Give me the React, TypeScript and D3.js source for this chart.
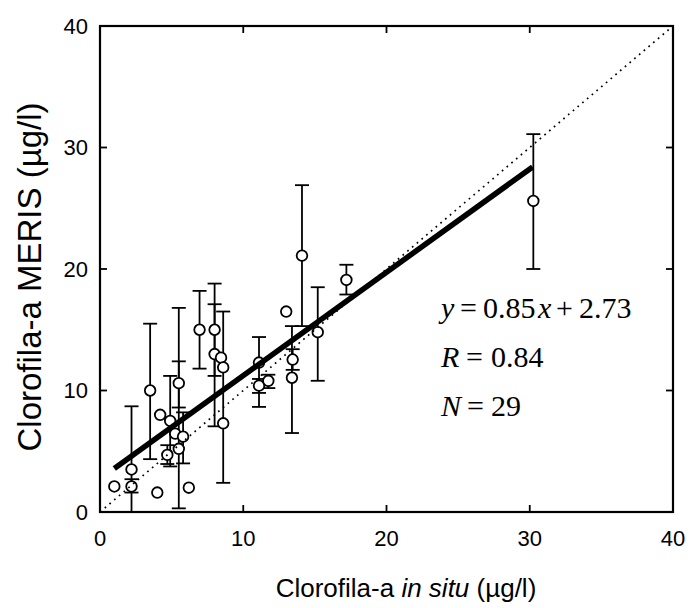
import React from "react";
import * as d3 from "d3";

const xsInSitu = [1.0, 2.2, 2.2, 4.0, 3.5, 4.2, 4.7, 4.9, 5.25, 5.5, 5.5, 5.8, 6.2, 6.95, 8.0, 8.0, 8.45, 8.6, 8.6, 11.1, 11.1, 11.75, 14.1, 13.0, 13.45, 13.4, 15.2, 17.2, 30.25];
const ysMeris = [2.1, 3.5, 2.1, 1.6, 10.0, 8.0, 4.7, 7.5, 6.45, 10.6, 5.2, 6.2, 2.0, 15.0, 15.0, 13.0, 12.7, 11.9, 7.3, 12.3, 10.4, 10.8, 21.1, 16.5, 12.55, 11.05, 14.8, 19.1, 25.6];
const errLow: (number | null)[] = [null, 0.0, 1.6, null, 4.35, null, 3.95, 3.75, null, 8.6, 0.3, 4.0, null, 11.8, 11.2, 7.05, null, null, 2.4, 8.65, 9.8, 10.2, 15.3, null, 11.7, 6.5, 10.8, 17.9, 20.0];
const errHigh: (number | null)[] = [null, 8.7, 2.7, null, 15.5, null, 5.5, 11.2, null, 12.4, 16.8, 8.2, null, 18.2, 18.8, 17.1, null, null, 16.5, 14.4, 10.95, 11.3, 26.9, null, 13.4, 15.3, 18.5, 20.35, 31.1];

const tickValues = [0, 10, 20, 30, 40];
const fitSlope = 0.85;
const fitIntercept = 2.73;
const fitRange = [1.0, 30.2];

const W = 692;
const H = 608;
const L = 100, R = 673, T = 26, B = 512;

export default function App() {
  const x = d3.scaleLinear().domain([0, 40]).range([L, R]);
  const y = d3.scaleLinear().domain([0, 40]).range([B, T]);
  const line = d3.line<[number, number]>().x((d) => x(d[0])).y((d) => y(d[1]));
  const fitPts: [number, number][] = fitRange.map((v) => [v, fitSlope * v + fitIntercept]);
  const onePts: [number, number][] = [[0, 0], [40, 40]];
  const sans = "'Liberation Sans', Arial, Helvetica, sans-serif";
  const serif = "'Liberation Serif', 'Times New Roman', Times, serif";
  const tl = 7;
  const cap = 7;
  return (
    <svg width={W} height={H} viewBox={`0 0 ${W} ${H}`} style={{ position: "absolute", left: 0, top: 0, background: "#fff" }}>
      <rect x={0} y={0} width={W} height={H} fill="#fff" />
      {/* error bars */}
      <g stroke="#000" strokeWidth={1.8} fill="none">
        {xsInSitu.map((xv, i) => {
          const lo = errLow[i];
          const hi = errHigh[i];
          if (lo === null || hi === null) return null;
          const cx = x(xv);
          return (
            <g key={"e" + i}>
              <line x1={cx} x2={cx} y1={y(lo)} y2={y(hi)} />
              <line x1={cx - cap} x2={cx + cap} y1={y(lo)} y2={y(lo)} />
              <line x1={cx - cap} x2={cx + cap} y1={y(hi)} y2={y(hi)} />
            </g>
          );
        })}
      </g>
      {/* points */}
      <g stroke="#000" strokeWidth={1.8} fill="#fff">
        {xsInSitu.map((xv, i) => (
          <circle key={"c" + i} cx={x(xv)} cy={y(ysMeris[i])} r={5.3} />
        ))}
      </g>
      {/* 1:1 dotted line */}
      <path d={line(onePts) || ""} stroke="#000" strokeWidth={1.7} strokeDasharray="1.7 4.5" fill="none" />
      {/* fit line */}
      <path d={line(fitPts) || ""} stroke="#000" strokeWidth={5.5} fill="none" strokeLinecap="butt" />
      {/* frame */}
      <rect x={L} y={T} width={R - L} height={B - T} fill="none" stroke="#000" strokeWidth={2.2} />
      {/* ticks */}
      <g stroke="#000" strokeWidth={1.8}>
        {tickValues.map((t) => (
          <g key={"t" + t}>
            <line x1={x(t)} x2={x(t)} y1={B} y2={B - tl} />
            <line x1={x(t)} x2={x(t)} y1={T} y2={T + tl} />
            <line x1={L} x2={L + tl} y1={y(t)} y2={y(t)} />
            <line x1={R} x2={R - tl} y1={y(t)} y2={y(t)} />
          </g>
        ))}
      </g>
      {/* tick labels */}
      <g fontFamily={sans} fontSize={22} fill="#000">
        {tickValues.map((t) => (
          <text key={"xl" + t} x={x(t)} y={546} textAnchor="middle">{t}</text>
        ))}
        {tickValues.map((t) => (
          <text key={"yl" + t} x={88} y={y(t)} dy="0.36em" textAnchor="end">{t}</text>
        ))}
      </g>
      {/* axis titles */}
      <text x={406} y={597} textAnchor="middle" fontFamily={sans} fontSize={26} fill="#000">
        Clorofila-a <tspan fontStyle="italic">in situ</tspan> (µg/l)
      </text>
      <text transform={`translate(41,277) rotate(-90)`} textAnchor="middle" fontFamily={sans} fontSize={33} fill="#000">
        Clorofila-a MERIS (µg/l)
      </text>
      {/* equation */}
      <g fontFamily={serif} fontSize={30} fill="#000">
        <text y={318}>
          <tspan x={441} fontStyle="italic">y</tspan>
          <tspan x={460}>=</tspan>
          <tspan x={483}>0.85</tspan>
          <tspan x={538} fontStyle="italic">x</tspan>
          <tspan x={556}>+</tspan>
          <tspan x={579}>2.73</tspan>
        </text>
        <text y={367}>
          <tspan x={441} fontStyle="italic">R</tspan>
          <tspan x={466}>=</tspan>
          <tspan x={491}>0.84</tspan>
        </text>
        <text y={416}>
          <tspan x={441} fontStyle="italic">N</tspan>
          <tspan x={467}>=</tspan>
          <tspan x={491}>29</tspan>
        </text>
      </g>
    </svg>
  );
}
